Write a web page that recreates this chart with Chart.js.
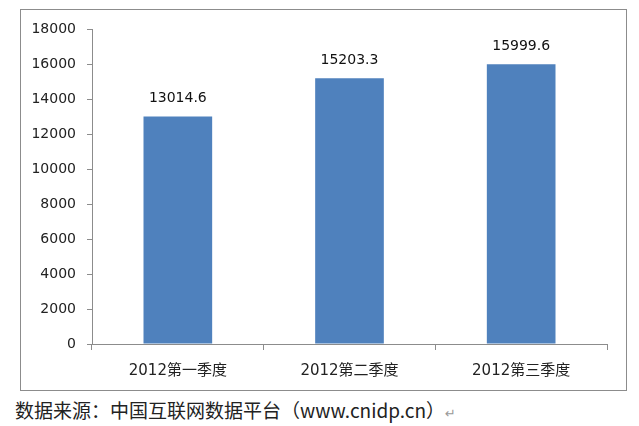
<!DOCTYPE html>
<html>
<head>
<meta charset="utf-8">
<script src="https://cdn.jsdelivr.net/npm/chart.js@4"></script>
<style>
  body { margin: 0; background: #fff; width: 639px; height: 426px; position: relative; overflow: hidden; }
  #box { position: absolute; left: 20px; top: 9px; width: 605px; height: 380px; border: 1px solid #8c8c8c; }
  #caption { position: absolute; left: 15px; top: 397px; font: 19px "Noto Sans CJK SC", "DejaVu Sans", sans-serif; color: #222; white-space: nowrap; line-height: 26px; }
  #caption .ret { color: #999; font-size: 13px; }
</style>
</head>
<body>
<div id="box"><canvas id="chart" width="605" height="380"></canvas></div>
<div id="caption">数据来源：中国互联网数据平台（www.cnidp.cn）<span class="ret">↵</span></div>
<script>
const categories = ['2012第一季度', '2012第二季度', '2012第三季度'];
const values = [13014.6, 15203.3, 15999.6];
const yTicks = [0, 2000, 4000, 6000, 8000, 10000, 12000, 14000, 16000, 18000];

const fontFamily = '"DejaVu Sans", "Noto Sans CJK SC", sans-serif';

const valueLabels = {
    id: 'valueLabels',
    afterDatasetsDraw(chart) {
        const ctx = chart.ctx;
        const meta = chart.getDatasetMeta(0);
        ctx.save();
        ctx.font = '14px ' + fontFamily;
        ctx.fillStyle = '#111';
        ctx.textAlign = 'center';
        ctx.textBaseline = 'bottom';
        meta.data.forEach((bar, i) => {
            ctx.fillText(values[i].toFixed(1), bar.x, bar.y - 11);
        });
        ctx.restore();
    }
};

new Chart(document.getElementById('chart'), {
    type: 'bar',
    data: {
        labels: categories,
        datasets: [{
            data: values,
            backgroundColor: '#4F81BD',
            borderWidth: 0,
            categoryPercentage: 1,
            barPercentage: 0.4
        }]
    },
    options: {
        responsive: false,
        animation: false,
        layout: { padding: { top: 18, right: 19, left: 0, bottom: 0 } },
        plugins: { legend: { display: false }, tooltip: { enabled: false } },
        scales: {
            x: {
                afterFit(scale) { scale.height = 46; },
                grid: { drawOnChartArea: false, drawTicks: true, tickLength: 6, color: '#8c8c8c', offset: true },
                border: { color: '#8c8c8c' },
                ticks: { color: '#222', font: { size: 15, family: fontFamily }, padding: 12 }
            },
            y: {
                min: 0,
                max: 18000,
                afterFit(scale) { scale.width = 71; },
                afterBuildTicks(scale) { scale.ticks = yTicks.map(v => ({ value: v })); },
                grid: { drawOnChartArea: false, drawTicks: true, tickLength: 5, color: '#8c8c8c' },
                border: { color: '#8c8c8c' },
                ticks: { color: '#222', font: { size: 14, family: fontFamily }, padding: 11, callback: v => String(v) }
            }
        }
    },
    plugins: [valueLabels]
});
</script>
</body>
</html>
